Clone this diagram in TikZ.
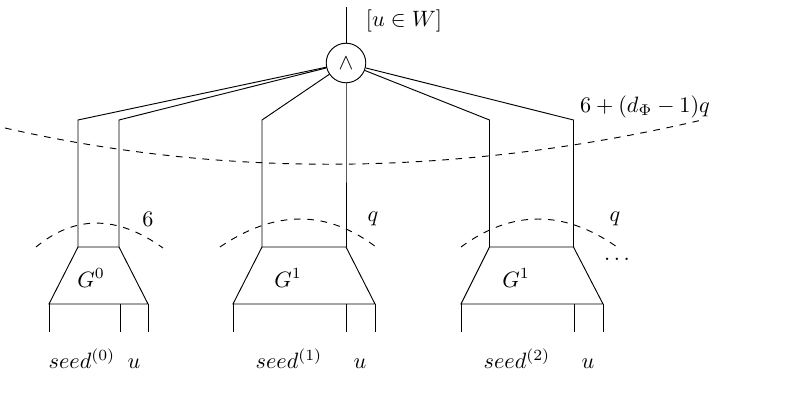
\documentclass[tikz,border=0pt]{standalone}
\begin{document}
\begin{tikzpicture}[x=0.45pt,y=-0.45pt,line width=0.42pt,
  wire/.style={draw},
  cutline/.style={draw,dashed},
  gate/.style={circle,draw,minimum size=17.8pt,inner sep=0pt},
  lbl/.style={inner sep=0pt},
  inlbl/.style={inner sep=0pt,anchor=base}]
\useasboundingbox (0,0) rectangle (804,402);
% gate
\node[gate] (and) at (346,63) {$\wedge$};
\coordinate (top) at (346,7);
\draw (top) -- (and);
\node[lbl] (uw) at (404,21) {$[u\in W]$};
% gadget 0
\coordinate (g0a) at (78,120);  \coordinate (g0b) at (119,120);
\coordinate (g0c) at (78,247);  \coordinate (g0d) at (119,247);
\coordinate (g0e) at (148,304); \coordinate (g0f) at (49,304);
\coordinate (g0u) at (120,304);
\coordinate (g0fl) at (49,332); \coordinate (g0ul) at (120,332); \coordinate (g0el) at (148,332);
% gadget 1
\coordinate (g1a) at (262,120);  \coordinate (g1b) at (346,120);
\coordinate (g1c) at (262,247);  \coordinate (g1d) at (346,247);
\coordinate (g1e) at (375,304);  \coordinate (g1f) at (233,304);
\coordinate (g1u) at (346,304);
\coordinate (g1fl) at (233,332); \coordinate (g1ul) at (346,332); \coordinate (g1el) at (375,332);
% gadget 2
\coordinate (g2a) at (489.5,120);  \coordinate (g2b) at (573.5,120);
\coordinate (g2c) at (489.5,247);  \coordinate (g2d) at (573.5,247);
\coordinate (g2e) at (603,304);  \coordinate (g2f) at (461,304);
\coordinate (g2u) at (574,304);
\coordinate (g2fl) at (461,332); \coordinate (g2ul) at (574,332); \coordinate (g2el) at (603,332);
\foreach \g in {g0,g1,g2}{
  \draw[wire] (and) -- (\g a) -- (\g c);
  \draw[wire] (and) -- (\g b) -- (\g d);
  \draw[wire] (\g c) -- (\g d) -- (\g e) -- (\g f) -- cycle;
  \draw[wire] (\g f) -- (\g fl);
  \draw[wire] (\g u) -- (\g ul);
  \draw[wire] (\g e) -- (\g el);
}
% cut lines
\draw[cutline] (5,128) .. controls (228,179) and (461,176) .. (702,120);
\draw[cutline] (36,247) .. controls (75,215) and (117,215) .. (163,248);
\draw[cutline] (220,247) .. controls (275,209.7) and (327,209.7) .. (376,247);
\draw[cutline] (461,247) .. controls (512,209.7) and (564,209.7) .. (617,247);
% labels
\node[lbl] (big) at (645,107) {$6+(d_\Phi-1)q$};
\node[lbl] (six) at (148,219) {$6$};
\node[lbl] (q1) at (373,219) {$q$};
\node[lbl] (q2) at (615,219) {$q$};
\node[lbl] (dots) at (617,259) {$\dots$};
\node[lbl] (G0) at (91,278) {$G^0$};
\node[lbl] (G1) at (288,278) {$G^1$};
\node[lbl] (G2) at (516,278) {$G^1$};
\node[inlbl] (s0) at (82,369) {$seed^{(0)}$};
\node[inlbl] (u0) at (134,369) {$u$};
\node[inlbl] (s1) at (289,369) {$seed^{(1)}$};
\node[inlbl] (u1) at (360,369) {$u$};
\node[inlbl] (s2) at (517,369) {$seed^{(2)}$};
\node[inlbl] (u2) at (588,369) {$u$};
\end{tikzpicture}
\end{document}
